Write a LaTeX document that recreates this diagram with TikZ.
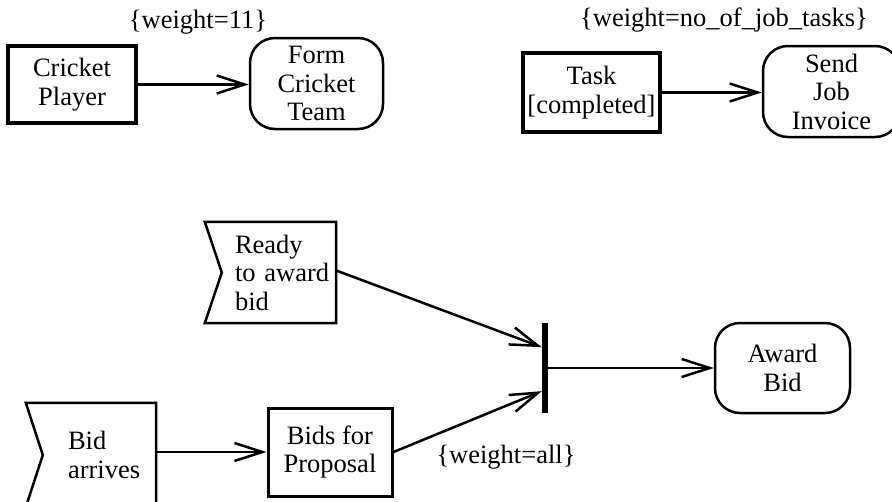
\documentclass[tikz,border=0pt]{standalone}
\usepackage{fontspec}
\setmainfont{Liberation Serif}
\usetikzlibrary{arrows.meta,calc}
\begin{document}
\begin{tikzpicture}[x=1pt,y=-1pt,
  every node/.style={font=\fontsize{26.5}{28.5}\selectfont},
  objbox/.style={draw,line width=3.5pt,align=center,inner sep=0pt},
  actbox/.style={draw,line width=2.5pt,rounded corners=25pt,align=center,inner sep=0pt},
  flagbox/.style={inner ysep=0pt,align=left},
  flagline/.style={line width=2.5pt,line join=miter},
  flow/.style={line width=2.5pt,-{Straight Barb[length=28pt,width=18pt]}},
  lbl/.style={inner sep=0pt}]
\useasboundingbox (0,0) rectangle (892,501);

% top left
\node[objbox,minimum width=128pt,minimum height=77pt] (cp) at (72,84.5) {Cricket\\Player};
\node[actbox,minimum width=133pt,minimum height=91pt] (fct) at (316.5,83.5) {Form\\Cricket\\Team};
\draw[flow] (cp.east) -- (cp.east -| fct.west);
\node[lbl] (w11) at (198,22) {\{weight=11\}};

% top right
\node[objbox,minimum width=137pt,minimum height=79pt] (task) at (591.5,92.5) {Task\\{[completed]}};
\node[actbox,minimum width=137pt,minimum height=91pt] (sji) at (831.5,91.5) {Send\\Job\\Invoice};
\draw[flow] (task.east) -- (task.east -| sji.west);
\node[lbl] (wjob) at (724,20) {\{weight=no\_of\_job\_tasks\}};

% bottom: signals
\node[flagbox,minimum height=101pt,inner xsep=13pt,text width=88pt] (ready) at (279,272.5) {Ready\\to~award\\bid};
\draw[flagline] ($(ready.north west)+(-17,0)$) -- (ready.north east) -- (ready.south east)
  -- ($(ready.south west)+(-17,0)$) -- (ready.west) -- cycle;

\node[flagbox,minimum height=104pt,inner xsep=25pt,text width=63pt] (bidarr) at (99.5,455) {Bid\\arrives};
\draw[flagline] ($(bidarr.north west)+(-17,0)$) -- (bidarr.north east) -- (bidarr.south east)
  -- ($(bidarr.south west)+(-17,0)$) -- (bidarr.west) -- cycle;

\node[objbox,line width=3pt,minimum width=124pt,minimum height=88pt] (bids) at (330,452) {Bids for\\Proposal};

% join bar
\node[fill=black,inner sep=0pt,minimum width=6pt,minimum height=90pt] (bar) at (545,368) {};
\coordinate (barin1) at ($(bar.north west)!0.27!(bar.south west)$);
\coordinate (barin2) at ($(bar.north west)!0.756!(bar.south west)$);

\node[actbox,minimum width=135pt,minimum height=90pt] (award) at (782.5,368) {Award\\Bid};

\draw[flow] (bidarr.east |- bids.west) -- (bids.west);
\draw[flow] ($(ready.east)+(0,-2)$) -- (barin1);
\draw[flow] (bids.east) -- (barin2);
\draw[flow] (bar.east) -- (award.west);
\node[lbl] (wall) at (506,457) {\{weight=all\}};
\end{tikzpicture}
\end{document}
